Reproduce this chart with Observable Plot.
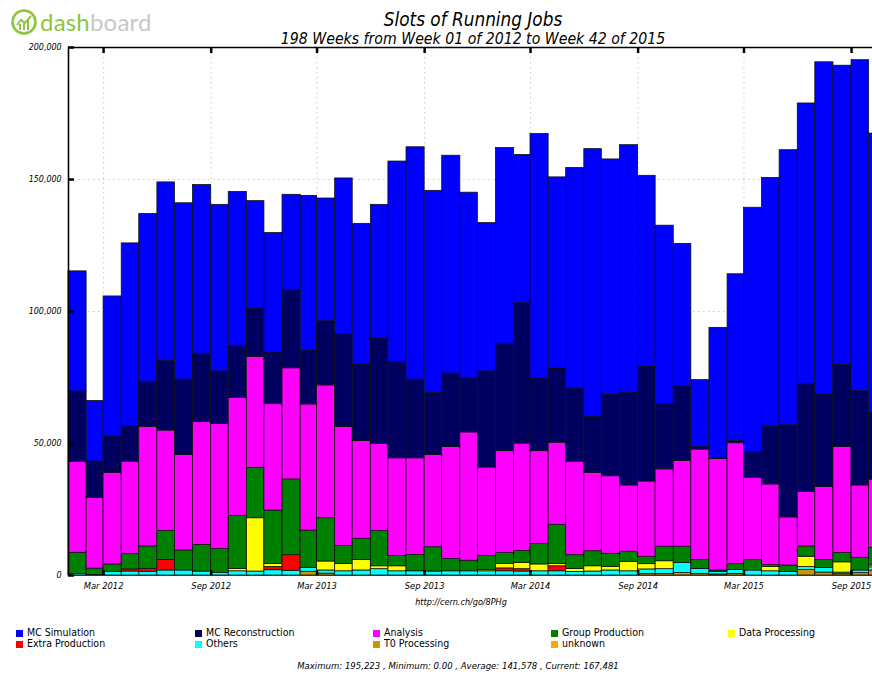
<!DOCTYPE html>
<html>
<head>
<meta charset="utf-8">
<script src="https://cdn.jsdelivr.net/npm/d3@7"></script>
<script src="https://cdn.jsdelivr.net/npm/@observablehq/plot@0.6"></script>
<style>
  html, body { margin: 0; padding: 0; background: #fff; width: 872px; height: 675px; overflow: hidden; }
  #wrap { position: relative; width: 872px; height: 675px; font-family: "DejaVu Sans Condensed", "DejaVu Sans", sans-serif; font-stretch: condensed; color: #000; }
  #chart { position: absolute; left: 0; top: 0; }
  #chart svg { overflow: hidden; }
  .abs { position: absolute; white-space: nowrap; }
  .ctr { transform: translateX(-50%); }
  .it { font-style: italic; }
  .lg { position: absolute; white-space: nowrap; font-size: 10.5px; line-height: 11px; }
  .lg i { display: inline-block; width: 7px; height: 7px; margin-right: 4px; vertical-align: -0.5px; }
</style>
</head>
<body>
<div id="wrap">
  <div id="chart"></div>
  <div class="abs" style="left:10px;top:8px;">
    <svg width="30" height="30" viewBox="0 0 30 30">
      <circle cx="14" cy="14" r="11.5" fill="none" stroke="#8cc63f" stroke-width="2.6"/>
      <path d="M7 17 L11 12 L15 15 L21 8" fill="none" stroke="#8cc63f" stroke-width="2"/>
      <rect x="9" y="16" width="2" height="6" fill="#8cc63f"/>
      <rect x="13" y="14" width="2" height="8" fill="#8cc63f"/>
      <rect x="17" y="12" width="2" height="10" fill="#8cc63f"/>
    </svg>
  </div>
  <div class="abs" style="left:40px;top:6px;font-family:Lato,'DejaVu Sans',sans-serif;font-weight:400;font-size:24px;line-height:32px;letter-spacing:0.2px;font-stretch:normal;">
    <span style="color:#8cc63f;">dash</span><span style="color:#c8c8c8;">board</span>
  </div>
  <div class="abs ctr it" style="left:473px;top:9px;font-size:18.8px;line-height:22px;">Slots of Running Jobs</div>
  <div class="abs ctr it" style="left:473px;top:30px;font-size:15.7px;line-height:18px;">198 Weeks from Week 01 of 2012 to Week 42 of 2015</div>
  <div class="abs ctr it" style="left:461px;top:597px;font-size:9px;line-height:11px;">http://cern.ch/go/8PHg</div>
  <div id="legend"></div>
  <div class="abs ctr it" style="left:458px;top:660px;font-size:9.5px;line-height:11px;">Maximum: 195,223 , Minimum: 0.00 , Average: 141,578 , Current: 167,481</div>
</div>
<script>
// ---------- data (values in thousands of slots), one entry per month ----------
const months = ["2012-01","2012-02","2012-03","2012-04","2012-05","2012-06","2012-07","2012-08","2012-09","2012-10","2012-11","2012-12",
                "2013-01","2013-02","2013-03","2013-04","2013-05","2013-06","2013-07","2013-08","2013-09","2013-10","2013-11","2013-12",
                "2014-01","2014-02","2014-03","2014-04","2014-05","2014-06","2014-07","2014-08","2014-09","2014-10","2014-11","2014-12",
                "2015-01","2015-02","2015-03","2015-04","2015-05","2015-06","2015-07","2015-08","2015-09","2015-10"];

const mcSimulation = [45.5,22.9,53.0,69.2,63.5,67.5,66.8,63.9,63.1,58.3,40.7,45.2,
                      36.0,58.6,46.5,58.9,53.3,50.6,75.9,88.0,76.5,82.5,70.1,56.2,
                      74.1,56.2,92.6,72.4,83.5,101.3,89.2,93.9,72.4,67.6,53.9,25.4,
                      49.2,63.0,92.5,94.2,104.2,106.2,125.8,113.3,125.4,105.6];
const mcReconstruction = [26.7,13.8,13.9,13.5,17.1,26.5,28.6,25.9,19.9,19.8,18.3,19.6,
                          29.7,20.4,24.3,35.2,29.0,39.9,36.5,29.8,23.6,27.8,20.7,36.4,
                          40.7,53.1,27.5,28.1,27.8,21.4,30.8,35.0,43.4,24.7,28.3,0.9,
                          0.5,1.0,9.8,21.9,34.9,41.0,35.1,31.1,35.7,25.5];
const analysis = [34.4,26.8,34.6,35.0,45.3,38.0,36.1,46.5,47.4,44.7,42.0,40.3,
                  42.1,47.8,50.3,45.1,37.0,33.0,37.0,36.6,34.9,42.4,48.6,33.5,
                  38.6,40.7,35.2,31.1,35.4,29.6,29.4,25.1,28.5,29.3,32.5,41.8,
                  42.2,45.8,31.1,30.5,18.2,20.6,27.6,40.2,27.4,25.9];
const groupProduction = [8.1,2.4,2.8,5.8,8.5,11.0,7.6,10.1,9.0,20.0,19.1,20.2,
                         28.7,14.1,16.4,6.8,8.0,13.4,3.9,6.2,9.2,4.7,4.0,5.3,
                         4.1,4.5,7.7,14.8,5.2,5.7,4.9,3.8,2.8,5.5,6.2,3.4,
                         0.5,2.2,4.0,0.8,2.5,3.9,3.1,3.5,4.8,6.6];
const dataProcessing = [0,0,0,0,0,0,0,0,0,0.9,20.2,1.2,
                        0,0,3.4,2.8,4.0,1.1,1.9,0,0,0,0,0.5,
                        1.7,2.4,2.6,0.9,1.2,2.0,1.4,3.6,2.0,3.0,0,0,
                        0,0,0,1.6,0,3.9,0,3.9,0,0.7];
const extraProduction = [0,0,0,0.8,1.1,4.0,0,0,0,0,0,1.2,
                         5.9,0,0,0,0,0,0,0,0,0,0,0,
                         1.1,0.9,0,1.9,0,0,0,0,0,0,0,0,
                         0,0,0,0,0,0,0,0,0,0];
const others = [0.5,0.2,1.4,1.5,1.4,1.9,1.9,1.5,1.0,1.6,1.5,2.0,
                1.8,1.5,1.2,1.6,1.9,2.4,1.6,1.6,1.5,1.6,1.6,1.6,
                1.6,1.5,1.6,1.6,1.3,1.5,1.9,1.6,1.7,1.8,3.7,1.9,
                1.0,1.5,1.9,1.6,1.3,1.1,1.7,0.6,1.0,1.2];
const t0Processing = [0,0,0,0,0,0,0,0,0,0,0,0,
                      0,1.4,0.7,0,0,0,0,0,0,0,0,0,
                      0,0,0,0,0,0,0,0,0.6,0.6,1.0,0.6,
                      0.4,0.6,0,0,0,2.1,1.1,0.5,0.9,1.9];
const unknown = [0,0,0,0,0,0,0,0,0,0,0,0,
                 0,0,0,0,0,0,0,0,0,0,0,0,
                 0,0,0,0,0,0,0,0,0,0,0,0,
                 0,0,0,0,0,0,0,0,0,0];

const seriesNames = ["MC Simulation","MC Reconstruction","Analysis","Group Production","Data Processing",
                     "Extra Production","Others","T0 Processing","unknown"];
const seriesColors = ["#0000ff","#000060","#ff00ff","#008000","#ffff00","#ff0000","#00ffff","#c89600","#ffa500"];
const seriesData = [mcSimulation, mcReconstruction, analysis, groupProduction, dataProcessing,
                    extraProduction, others, t0Processing, unknown];

const yTicks = [0, 50000, 100000, 150000, 200000];
const xTickLabels = ["Mar 2012","Sep 2012","Mar 2013","Sep 2013","Mar 2014","Sep 2014","Mar 2015","Sep 2015"];

// ---------- build stacked table (bottom of stack = last legend entry) ----------
const rows = [];
months.forEach((m, i) => {
  const start = new Date(m + "-01T00:00:00Z");
  const end = d3.utcMonth.offset(start, 1);
  let base = 0;
  for (let s = seriesNames.length - 1; s >= 0; s--) {
    const v = seriesData[s][i] * 1000;
    if (v > 0) rows.push({start, end, y1: base, y2: base + v, series: seriesNames[s]});
    base += v;
  }
});

const parseTick = d3.utcParse("%b %Y");
const tickDates = xTickLabels.map(parseTick);
const xStart = new Date(Date.UTC(2012, 0, 1));
const xEnd = new Date(Date.UTC(2015, 9, 6, 19));
const fmtY = d3.format(",");
const fmtX = d3.utcFormat("%b %Y");
const FONT = '"DejaVu Sans Condensed", "DejaVu Sans", sans-serif';

const chart = Plot.plot({
  width: 872,
  height: 600,
  marginTop: 47,
  marginBottom: 25,
  marginLeft: 68,
  marginRight: 0,
  style: {fontFamily: FONT, background: "transparent", overflow: "hidden", fontStretch: "condensed"},
  x: {type: "utc", domain: [xStart, xEnd], axis: null},
  y: {domain: [0, 200000], axis: null},
  color: {domain: seriesNames, range: seriesColors},
  marks: [
    Plot.ruleY([50000, 100000, 150000], {stroke: "#c8c8c8", strokeDasharray: "1.5,3.5"}),
    Plot.ruleX(tickDates, {stroke: "#c8c8c8", strokeDasharray: "1.5,3.5"}),
    Plot.rect(rows, {x1: "start", x2: "end", y1: "y1", y2: "y2", fill: "series", stroke: "#111", strokeWidth: 0.8}),
    Plot.ruleY([200000], {stroke: "#000", strokeWidth: 1.6}),
    Plot.ruleY([0], {stroke: "#333", strokeWidth: 1.2}),
    Plot.ruleX([xStart], {stroke: "#000", strokeWidth: 1.6}),
    // tick marks (inward)
    Plot.ruleX(tickDates, {y1: 200000, y2: 200000, insetBottom: -6, stroke: "#000", strokeWidth: 2.5}),
    Plot.ruleX(tickDates, {y1: 0, y2: 0, insetTop: -5, stroke: "#000", strokeWidth: 2.5}),
    Plot.ruleY(yTicks, {x1: xStart, x2: xStart, insetRight: -6, stroke: "#000", strokeWidth: 2.5}),
    // tick labels
    Plot.text(yTicks, {x: xStart, y: d => d, text: d => fmtY(d), textAnchor: "end", dx: -7, fontStyle: "italic", fontSize: 8.8}),
    Plot.text(tickDates, {x: d => d, y: 0, dy: 11, text: d => fmtX(d), fontStyle: "italic", fontSize: 9.3})
  ]
});
document.getElementById("chart").appendChild(chart);

// ---------- legend ----------
const legendPos = [[16,627],[195,627],[373,627],[551,627],[728,627],[16,638],[195,638],[373,638],[551,638]];
const legend = document.getElementById("legend");
seriesNames.forEach((name, i) => {
  const d = document.createElement("div");
  d.className = "lg";
  d.style.left = legendPos[i][0] + "px";
  d.style.top = legendPos[i][1] + "px";
  const sq = document.createElement("i");
  sq.style.background = seriesColors[i];
  d.appendChild(sq);
  d.appendChild(document.createTextNode(name));
  legend.appendChild(d);
});
</script>
</body>
</html>
